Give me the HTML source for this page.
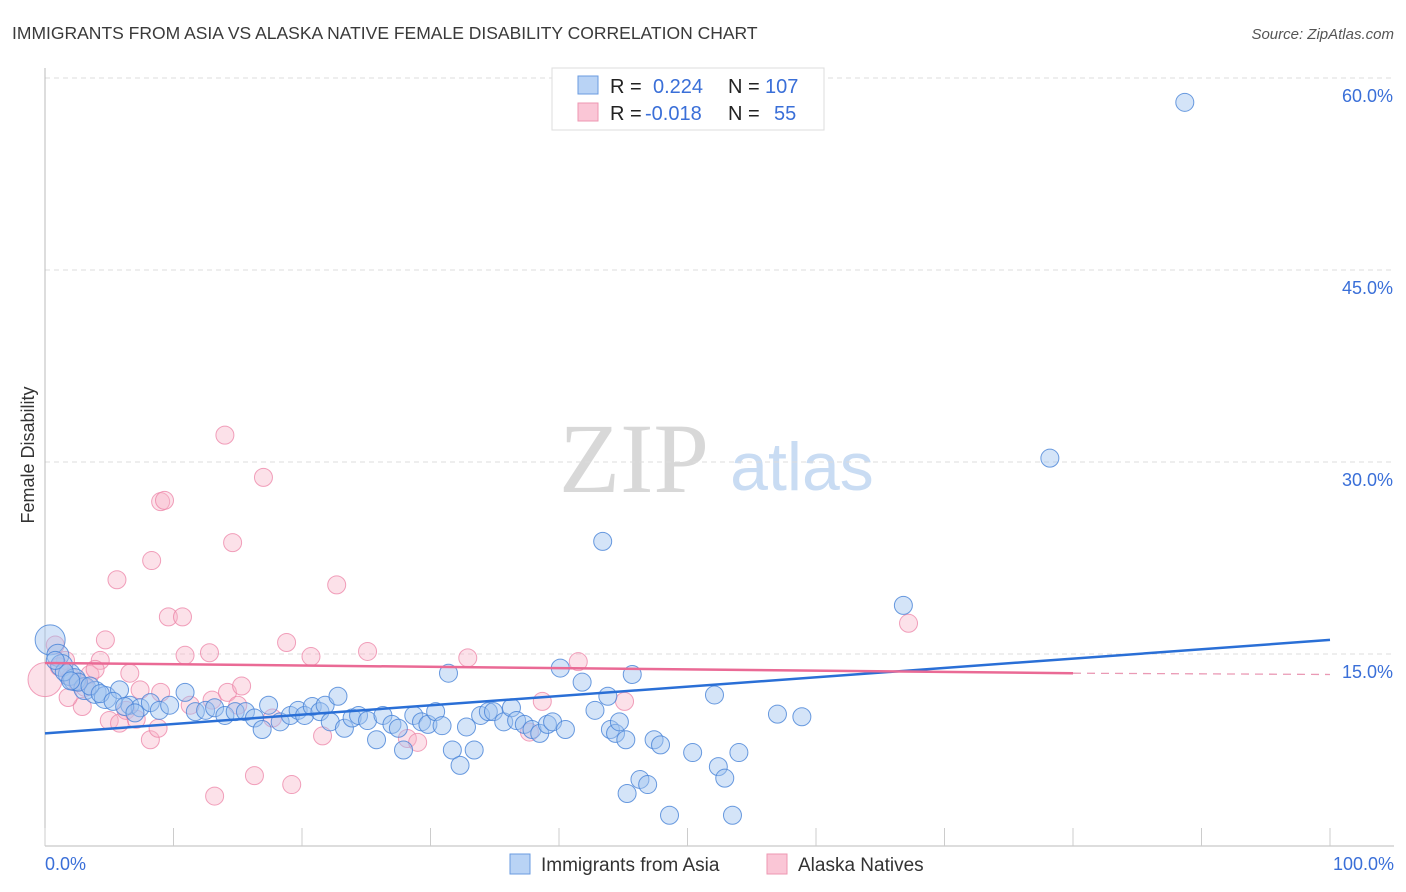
<!DOCTYPE html>
<html><head><meta charset="utf-8"><style>
body{margin:0;background:#fff;font-family:"Liberation Sans",sans-serif;}
#wrap{position:relative;width:1406px;height:892px;overflow:hidden;}
</style></head><body>
<div id="wrap">
<svg id="chart" width="1406" height="892" xmlns="http://www.w3.org/2000/svg">
<text x="12" y="39" font-size="17.5" fill="#3a3a3a">IMMIGRANTS FROM ASIA VS ALASKA NATIVE FEMALE DISABILITY CORRELATION CHART</text>
<text x="1394" y="39" font-size="15" font-style="italic" fill="#555" text-anchor="end">Source: ZipAtlas.com</text>
<text x="634" y="492" font-size="100" font-family="Liberation Serif, serif" fill="#d8d8d8" text-anchor="middle">ZIP</text>
<text x="802" y="490" font-size="68" fill="#c9dcf3" text-anchor="middle">atlas</text>
<g id="grid"></g>
<g id="axes"></g>
<g id="pts"></g>
<g id="trend"></g>
<text transform="translate(34,455) rotate(-90)" font-size="18" fill="#333" text-anchor="middle">Female Disability</text>
<g>
<rect x="552" y="68" width="272" height="62" fill="#fff" stroke="#ddd"/>
<rect x="578" y="76" width="20" height="18" fill="#b9d3f5" stroke="#6a9be0"/>
<rect x="578" y="103" width="20" height="18" fill="#fac6d6" stroke="#ee97b2"/>
<text x="610" y="93" font-size="20" fill="#222">R = </text><text x="653" y="93" font-size="20" fill="#3a6fd8">0.224</text>
<text x="728" y="93" font-size="20" fill="#222">N = </text><text x="765" y="93" font-size="20" fill="#3a6fd8">107</text>
<text x="610" y="120" font-size="20" fill="#222">R = </text><text x="645" y="120" font-size="20" fill="#3a6fd8">-0.018</text>
<text x="728" y="120" font-size="20" fill="#222">N = </text><text x="774" y="120" font-size="20" fill="#3a6fd8">55</text>
</g>
<g>
<rect x="510" y="854" width="20" height="20" fill="#b9d3f5" stroke="#6a9be0"/>
<text x="541" y="871" font-size="19" fill="#333">Immigrants from Asia</text>
<rect x="767" y="854" width="20" height="20" fill="#fac6d6" stroke="#ee97b2"/>
<text x="798" y="871" font-size="19" fill="#333">Alaska Natives</text>
</g>
</svg>
</div>
<script>
const yTicks=[15,30,45,60];
const yTickLabels=["15.0%","30.0%","45.0%","60.0%"];
const xTicks=[0,10,20,30,40,50,60,70,80,90,100];
const asiaX=[0.4,1.0,1.3,1.9,2.3,3.1,3.9,4.7,5.8,6.6,7.4,8.2,8.9,9.7,10.9,11.7,12.5,13.2,14.0,14.8,15.6,16.3,16.9,17.4,18.3,19.1,19.7,20.2,20.8,21.4,21.8,22.2,22.8,23.3,23.9,24.4,25.1,25.8,26.3,27.0,27.5,27.9,28.7,29.3,29.8,30.4,30.9,31.4,31.7,32.3,32.8,33.4,33.9,34.5,34.9,35.7,36.3,36.7,37.3,37.9,38.5,39.1,39.5,40.1,40.5,41.8,42.8,43.4,44.0,44.4,44.7,45.2,45.7,46.3,46.9,47.4,47.9,48.6,50.4,52.1,52.4,52.9,53.5,54.0,57.0,58.9,66.8,78.2,88.7,45.3,43.8,1.5,2.6,3.5,4.3,5.3,6.2,7.0,0.8,2.0];
const asiaY=[16.1,14.9,14.1,13.4,13.0,12.3,12.0,11.6,12.2,11.0,10.8,11.2,10.6,11.0,12.0,10.5,10.6,10.8,10.2,10.5,10.5,10.0,9.1,11.0,9.7,10.2,10.6,10.2,10.9,10.5,11.0,9.7,11.7,9.2,10.0,10.2,9.8,8.3,10.2,9.5,9.2,7.5,10.2,9.7,9.5,10.5,9.4,13.5,7.5,6.3,9.3,7.5,10.2,10.5,10.5,9.7,10.8,9.8,9.5,9.1,8.8,9.5,9.7,13.9,9.1,12.8,10.6,23.8,9.1,8.8,9.7,8.3,13.4,5.2,4.8,8.3,7.9,2.4,7.3,11.8,6.2,5.3,2.4,7.3,10.3,10.1,18.8,30.3,58.1,4.1,11.7,13.6,12.8,12.5,11.9,11.3,10.9,10.4,14.5,12.9];
const akX=[0,0.8,1.6,2.9,3.5,4.3,1.8,4.7,5.0,5.6,5.8,6.6,7.4,8.2,8.3,8.8,9.0,9.3,9.6,10.7,10.9,11.3,12.8,13.0,13.2,14.0,14.2,14.6,15.0,15.3,16.3,17.0,17.7,18.8,19.2,20.7,21.6,22.7,25.1,28.2,29.0,32.9,37.7,38.7,41.5,45.1,67.2,2.0,3.1,3.9,6.3,7.1,9.0,1.1,2.5];
const akY=[13.0,15.7,14.5,10.9,13.4,14.5,11.6,16.1,9.8,20.8,9.6,13.5,12.2,8.3,22.3,9.2,26.9,27.0,17.9,17.9,14.9,11.0,15.1,11.4,3.9,32.1,12.0,23.7,11.0,12.5,5.5,28.8,10.0,15.9,4.8,14.8,8.6,20.4,15.2,8.4,8.1,14.7,8.9,11.3,14.4,11.3,17.4,13.2,12.4,13.8,10.6,9.9,12.0,14.0,12.8];
const asiaTrendX=[0,100];const asiaTrendY=[8.8,16.1];
const akTrendX=[0,80,100];const akTrendY=[14.3,13.5,13.4];

const X=v=>45+v*12.85, Y=v=>846-v*12.8;
const NS="http://www.w3.org/2000/svg";
function mk(tag,attrs,parent){const e=document.createElementNS(NS,tag);for(const k in attrs)e.setAttribute(k,attrs[k]);document.getElementById(parent).appendChild(e);return e;}
yTicks.forEach((t,i)=>{
 const l=mk('line',{x1:45,x2:1394,y1:Y(t),y2:Y(t),stroke:'#ddd','stroke-dasharray':'5,4'},'grid');
 
 
 const tx=mk('text',{x:1393,y:Y(t)+24,'font-size':18,fill:'#3a6fd8','text-anchor':'end'},'grid');
 tx.textContent=yTickLabels[i];
 
 
});
let a=mk('line',{x1:45,x2:45,y1:68,y2:846,stroke:'#bbb'},'axes');


a=mk('line',{x1:45,x2:1394,y1:846,y2:846,stroke:'#bbb'},'axes');


xTicks.forEach(t=>{
 const l=mk('line',{x1:X(t),x2:X(t),y1:828,y2:846,stroke:'#ccc'},'axes');
 
 
});
let t0=mk('text',{x:45,y:870,'font-size':18,fill:'#3a6fd8'},'axes');t0.textContent='0.0%';


let t1=mk('text',{x:1394,y:870,'font-size':18,fill:'#3a6fd8','text-anchor':'end'},'axes');t1.textContent='100.0%';


akX.forEach((x,i)=>{
 const r=i===0?17:9;
 const c=mk('circle',{cx:X(x),cy:Y(akY[i]),r:r,fill:'rgba(248,180,200,0.4)',stroke:'rgba(236,130,165,0.75)','stroke-width':1},'pts');
 
 
});
asiaX.forEach((x,i)=>{
 const r=i===0?15:(i<8?11:9);
 const c=mk('circle',{cx:X(x),cy:Y(asiaY[i]),r:r,fill:'rgba(160,196,240,0.45)',stroke:'rgba(70,130,215,0.8)','stroke-width':1},'pts');
 
 
});
let tl=mk('line',{x1:X(asiaTrendX[0]),y1:Y(asiaTrendY[0]),x2:X(asiaTrendX[1]),y2:Y(asiaTrendY[1]),stroke:'#2a6fd6','stroke-width':2.5},'trend');


tl=mk('line',{x1:X(akTrendX[0]),y1:Y(akTrendY[0]),x2:X(akTrendX[1]),y2:Y(akTrendY[1]),stroke:'#ea6a95','stroke-width':2.5},'trend');


tl=mk('line',{x1:X(akTrendX[1]),y1:Y(akTrendY[1]),x2:X(akTrendX[2]),y2:Y(akTrendY[2]),stroke:'#ea9ab5','stroke-width':1.3,'stroke-dasharray':'8,6'},'trend');


</script>
</body></html>
